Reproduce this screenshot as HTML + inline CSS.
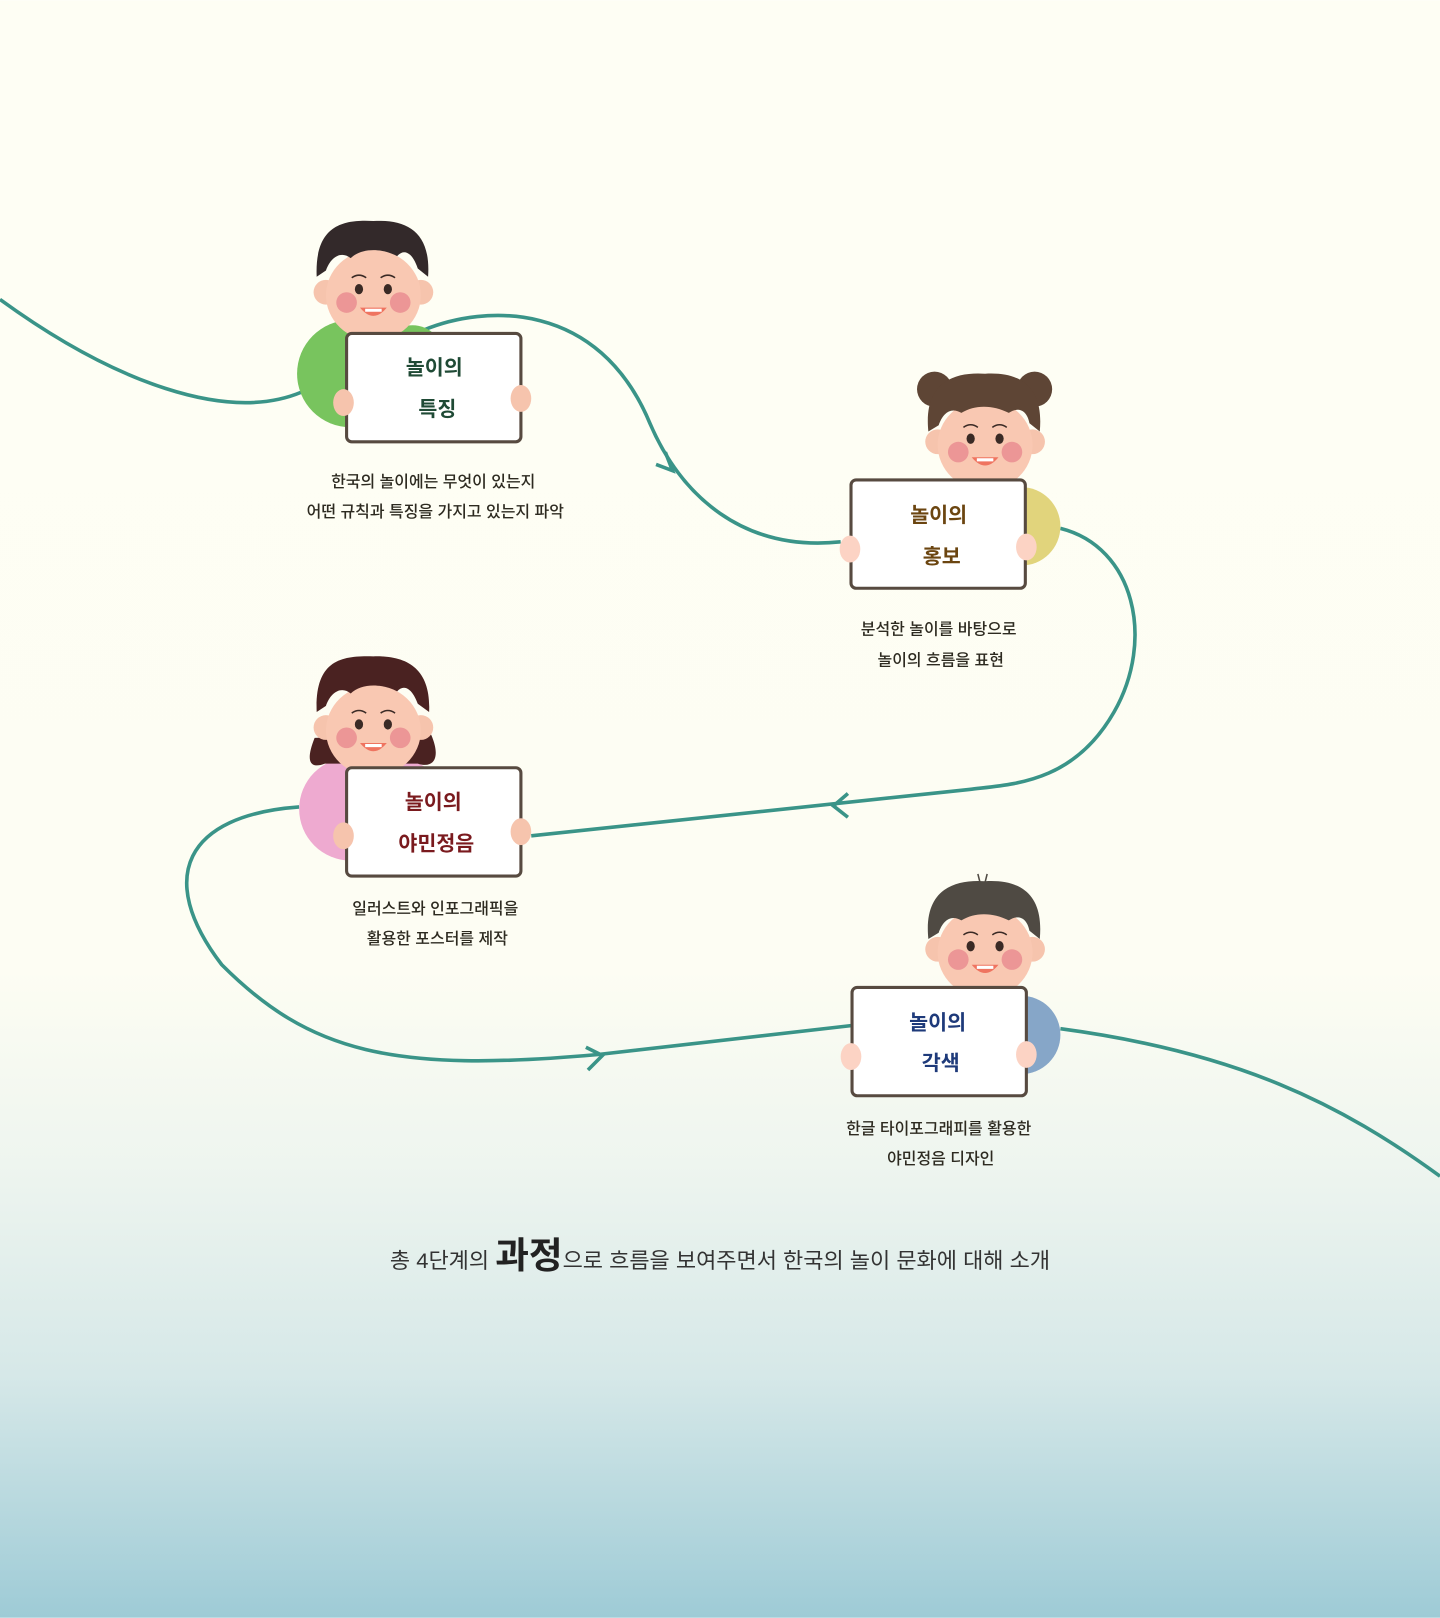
<!DOCTYPE html>
<html><head><meta charset="utf-8"><style>
html,body{margin:0;padding:0;width:1440px;height:1618px;overflow:hidden}
svg{display:block}
text{font-family:"Liberation Sans","Noto Sans CJK KR","NanumGothic",sans-serif}
.cap{font-size:15.5px;fill:#2d2a20;font-weight:500}
</style></head><body>
<svg width="1440" height="1618" viewBox="0 0 1396 1568">
<defs>
<linearGradient id="bg" x1="0" y1="0" x2="0" y2="1">
<stop offset="0" stop-color="#fefef4"/><stop offset="0.6" stop-color="#fdfdf3"/>
<stop offset="0.72" stop-color="#eef5ef"/><stop offset="0.85" stop-color="#d6e8e8"/>
<stop offset="1" stop-color="#9ecbd6"/></linearGradient>
<g id="face">
<circle cx="-46" cy="5" r="12" fill="#f6c4ad"/><circle cx="46" cy="5" r="12" fill="#f6c4ad"/>
<ellipse cx="0" cy="8" rx="46" ry="44" fill="#f9c8b2"/>
<circle cx="-26" cy="15" r="10" fill="#e88a8f" opacity="0.8"/><circle cx="26" cy="15" r="10" fill="#e88a8f" opacity="0.8"/>
<ellipse cx="-14" cy="2" rx="4" ry="5" fill="#3a2a25"/><ellipse cx="14" cy="2" rx="4" ry="5" fill="#3a2a25"/>
<path d="M-21,-9 q7,-5 14,0 M7,-9 q7,-5 14,0" stroke="#3a2a25" stroke-width="1.5" fill="none"/>
<path d="M-13,20 q13,16 26,0 z" fill="#ef7460"/><path d="M-8,21 h16 v3 h-16z" fill="#fff"/>
</g>
</defs>
<rect width="1396" height="1568" fill="url(#bg)"/>
<g fill="none" stroke="#3a9488" stroke-width="3.5">
<path d="M0,290 C110,370 220,410 292,380"/>
<path d="M410,320 C470,295 580,290 630,410 C660,480 720,535 815,525"/>
<path d="M1028,512 C1100,530 1120,620 1080,690 C1040,760 980,760 940,765 L515,810"/>
<path d="M290,782 C180,790 150,850 215,935 C300,1020 380,1040 580,1022 L825,994"/>
<path d="M1028,997 C1200,1020 1300,1070 1396,1140"/>
<path d="M636,450 L652,456 L645,438" stroke-linejoin="miter"/>
<path d="M822,769 L808,781 L822,792"/>
<path d="M568,1015 L584,1023 L570,1037"/>
</g>
<g>
<circle cx="340" cy="362" r="52" fill="#78c45e"/>
<circle cx="400" cy="345" r="30" fill="#78c45e"/>
<g transform="translate(362,278)"><use href="#face"/></g>
<path d="M307,268 C305,220 330,212 362,214 C395,212 418,225 415,268 L405,260 C400,245 392,240 385,248 C370,240 350,240 340,250 C330,242 320,250 316,262z" fill="#33292a"/>
<rect x="336" y="323" width="169" height="105" rx="5" fill="#fff" stroke="#574a40" stroke-width="3"/>
<ellipse cx="333" cy="390" rx="10" ry="13" fill="#f6c4ad"/><ellipse cx="505" cy="386" rx="10" ry="13" fill="#f6c4ad"/>
<text x="421" y="363" font-size="20" font-weight="bold" fill="#1f4a35" text-anchor="middle">놀이의</text>
<text x="424" y="403" font-size="20" font-weight="bold" fill="#1f4a35" text-anchor="middle">특징</text>
<text x="420" y="472" class="cap" text-anchor="middle">한국의 놀이에는 무엇이 있는지</text>
<text x="422" y="501" class="cap" text-anchor="middle">어떤 규칙과  특징을 가지고 있는지 파악</text>
</g>
<g>
<circle cx="990" cy="510" r="38" fill="#e1d47c"/>
<circle cx="906" cy="377" r="17" fill="#5e4535"/><circle cx="1003" cy="377" r="17" fill="#5e4535"/>
<g transform="translate(955,423)"><use href="#face"/></g>
<path d="M900,418 C895,370 925,360 955,362 C990,360 1012,375 1008,418 L998,410 C995,395 985,395 978,400 C962,392 945,392 932,400 C922,394 914,400 910,412z" fill="#5e4535"/>
<rect x="825" y="465" width="169" height="105" rx="5" fill="#fff" stroke="#574a40" stroke-width="3"/>
<ellipse cx="824" cy="532" rx="10" ry="13" fill="#fcd3c4"/><ellipse cx="995" cy="530" rx="10" ry="13" fill="#fcd3c4"/>
<text x="910" y="506" font-size="20" font-weight="bold" fill="#6b4510" text-anchor="middle">놀이의</text>
<text x="913" y="546" font-size="20" font-weight="bold" fill="#6b4510" text-anchor="middle">홍보</text>
<text x="910" y="615" class="cap" text-anchor="middle">분석한 놀이를 바탕으로</text>
<text x="912" y="645" class="cap" text-anchor="middle">놀이의 흐름을 표현</text>
</g>
<g>
<circle cx="340" cy="784" r="50" fill="#eeaad0"/><circle cx="395" cy="768" r="30" fill="#eeaad0"/>
<path d="M305,715 C295,740 302,745 315,740 L405,740 C420,745 428,735 418,712z" fill="#4a2221"/>
<g transform="translate(362,700)"><use href="#face"/></g>
<path d="M307,690 C305,640 330,635 362,636 C395,635 418,648 416,690 L405,682 C400,668 392,662 385,670 C370,662 350,662 340,672 C330,664 320,672 316,684z" fill="#4a2221"/>
<rect x="336" y="744" width="169" height="105" rx="5" fill="#fff" stroke="#574a40" stroke-width="3"/>
<ellipse cx="333" cy="810" rx="10" ry="13" fill="#f6c4ad"/><ellipse cx="505" cy="806" rx="10" ry="13" fill="#f6c4ad"/>
<text x="420" y="784" font-size="20" font-weight="bold" fill="#7a1a1e" text-anchor="middle">놀이의</text>
<text x="423" y="824" font-size="20" font-weight="bold" fill="#7a1a1e" text-anchor="middle">야민정음</text>
<text x="422" y="886" class="cap" text-anchor="middle">일러스트와 인포그래픽을</text>
<text x="424" y="915" class="cap" text-anchor="middle">활용한 포스터를 제작</text>
</g>
<g>
<circle cx="990" cy="1003" r="38" fill="#86a6c8"/>
<g transform="translate(955,915)"><use href="#face"/></g>
<path d="M900,910 C895,862 925,852 955,854 C990,852 1012,867 1008,910 L998,902 C995,887 985,887 978,892 C962,884 945,884 932,892 C922,886 914,892 910,904z" fill="#4f4a43"/>
<path d="M950,855 l-2,-8 M955,855 l2,-8" stroke="#4f4a43" stroke-width="1.5"/>
<rect x="826" y="957" width="169" height="105" rx="5" fill="#fff" stroke="#574a40" stroke-width="3"/>
<ellipse cx="825" cy="1024" rx="10" ry="13" fill="#fcd3c4"/><ellipse cx="995" cy="1022" rx="10" ry="13" fill="#fcd3c4"/>
<text x="909" y="998" font-size="20" font-weight="bold" fill="#1e3a7a" text-anchor="middle">놀이의</text>
<text x="912" y="1037" font-size="20" font-weight="bold" fill="#1e3a7a" text-anchor="middle">각색</text>
<text x="910" y="1099" class="cap" text-anchor="middle">한글 타이포그래피를 활용한</text>
<text x="912" y="1128" class="cap" text-anchor="middle">야민정음 디자인</text>
</g>
<text x="378" y="1229" font-size="21" fill="#333" textLength="640" lengthAdjust="spacingAndGlyphs">총 4단계의 <tspan font-size="35" font-weight="bold" fill="#222">과정</tspan>으로 흐름을 보여주면서 한국의 놀이 문화에 대해 소개</text>
</svg>
</body></html>
